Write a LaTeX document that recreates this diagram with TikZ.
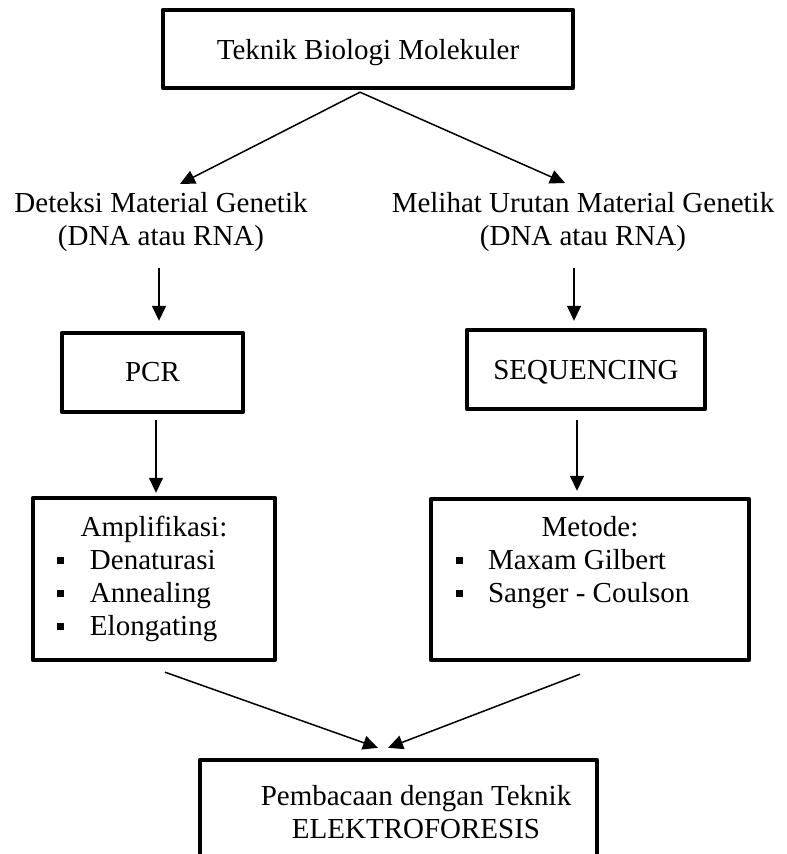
\documentclass[tikz,border=0pt]{standalone}
\usepackage{fontspec}
\setmainfont{Liberation Serif}
\usepackage{tikz}
\usetikzlibrary{arrows.meta, positioning}
\tikzset{
    boxnode/.style = {draw, rectangle, line width=2.2pt, line join=round, inner sep=0em,
      node distance=0em, align=center, font=\fontsize{14.5pt}{16.5pt}\selectfont},
    listnode/.style = {boxnode, align=left, inner xsep=12.25pt, inner ysep=0em},
    textnode/.style = {draw=none, fill=none, rectangle, inner sep=0em, node distance=0em,
      align=center, font=\fontsize{14.5pt}{16.5pt}\selectfont},
    connect/.style = {black, line width=0.75pt, -{Triangle[length=7.5pt, width=7pt]}}
}
\newcommand{\sqitem}[1]{\spaceskip=0pt\relax\makebox[16.25pt][l]{\raisebox{3pt}{\rule{3.5pt}{3.5pt}}}#1}
\newcommand{\midline}[1]{\hfill #1\hfill\null}

\begin{document}
\begin{tikzpicture}
    \useasboundingbox (-184pt, 24.5pt) rectangle (209pt, -402.5pt);

    \node [name=teknik, boxnode, text depth=0pt, minimum width=205pt, minimum height=39pt] {Teknik Biologi Molekuler};

    \node [name=deteksi, textnode, below of = teknik, xshift=-103.5pt, yshift=-86.5pt]
        {Deteksi Material Genetik\\(DNA atau RNA)};
    \node [name=melihat, textnode, below of = teknik, xshift=107.5pt, yshift=-86.5pt]
        {Melihat Urutan Material Genetik\\(DNA atau RNA)};

    \node [name=pcr, boxnode, minimum width=90.5pt, minimum height=39.5pt,
        below of = teknik, xshift=-107.75pt, yshift=-161.75pt] {PCR};
    \node [name=seq, boxnode, text depth=0pt, minimum width=119pt, minimum height=39.5pt,
        below of = teknik, xshift=109pt, yshift=-160.25pt] {SEQUENCING};

    \node [name=amp, listnode, text width=96.5pt, minimum width=121pt, minimum height=81pt,
        below of = teknik, xshift=-107pt, yshift=-265pt]
        {\noindent\midline{Amplifikasi:}\\\sqitem{Denaturasi}\\\sqitem{Annealing}\\\sqitem{Elongating}};
    \node [name=met, listnode, text width=134.5pt, minimum width=159pt, minimum height=80.5pt,
        below of = teknik, xshift=111pt, yshift=-265.25pt]
        {\noindent\midline{Metode:}\\\sqitem{Maxam Gilbert}\\\sqitem{Sanger - Coulson}\\\vphantom{g}};

    \node [name=elek, boxnode, minimum width=198.5pt, minimum height=52pt,
        below of = teknik, xshift=15.25pt, yshift=-381.5pt]
        {\hspace*{17.5pt}Pembacaan dengan Teknik\\\hspace*{17.5pt}ELEKTROFORESIS};

    \draw [connect] ([xshift=-4pt, yshift=-1pt]teknik.south) -- ([xshift=9.5pt, yshift=19pt]deteksi.center);
    \draw [connect] ([xshift=-4pt, yshift=-1pt]teknik.south) -- ([xshift=-9pt, yshift=19.5pt]melihat.center);

    \draw [connect] ([xshift=-1pt, yshift=-23pt]deteksi.center) -- ([xshift=3.25pt, yshift=5pt]pcr.north);
    \draw [connect] ([xshift=-4.5pt, yshift=-23pt]melihat.center) -- ([xshift=-6pt, yshift=3.5pt]seq.north);

    \draw [connect] ([xshift=1.75pt, yshift=-3pt]pcr.south) -- ([xshift=1pt, yshift=1.5pt]amp.north);
    \draw [connect] ([xshift=-4.5pt, yshift=-4.5pt]seq.south) -- ([xshift=-6.5pt, yshift=3pt]met.north);

    \draw [connect] ([xshift=5.5pt, yshift=-5pt]amp.south) -- ([xshift=-10.25pt, yshift=5pt]elek.north);
    \draw [connect] ([xshift=-5pt, yshift=-6pt]met.south) -- ([xshift=-5.25pt, yshift=5pt]elek.north);
\end{tikzpicture}
\end{document}
